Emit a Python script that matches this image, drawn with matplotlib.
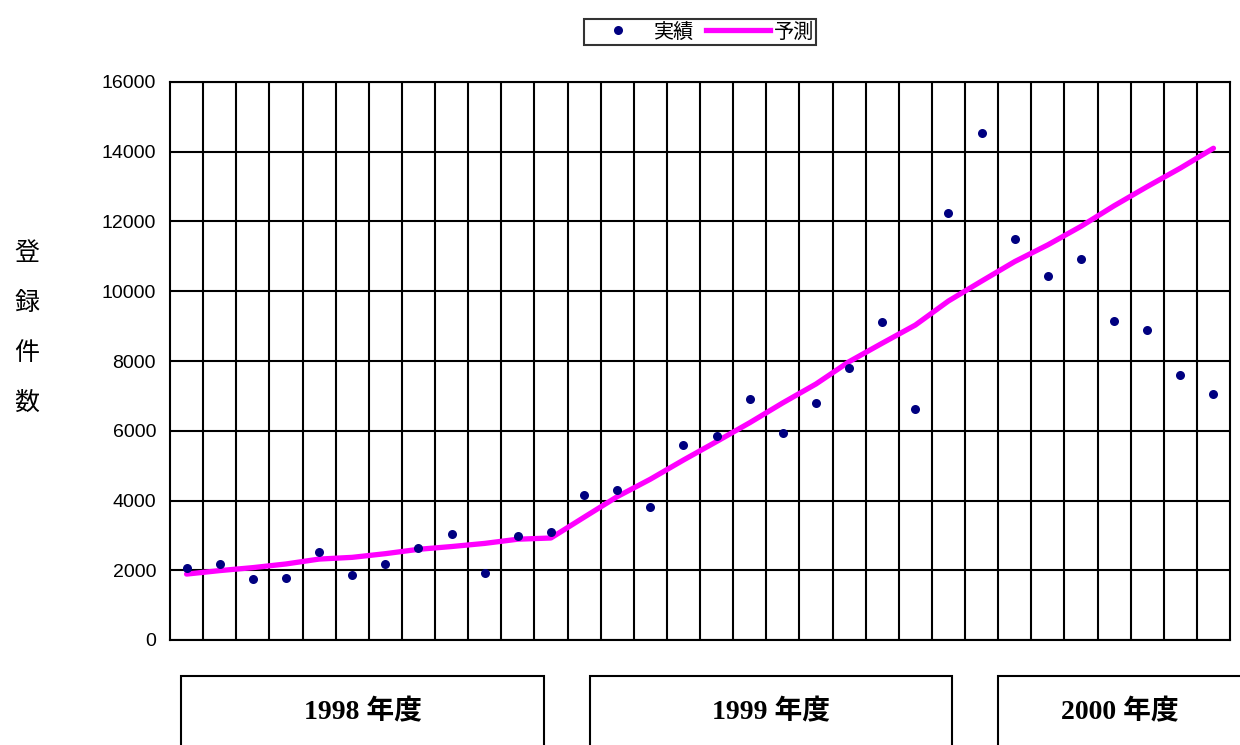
import numpy as np
import matplotlib
matplotlib.use("Agg")
import matplotlib.pyplot as plt
from matplotlib.lines import Line2D
from matplotlib.patches import Rectangle

# ---- data ----
actual = [2070, 2190, 1740, 1770, 2535, 1855, 2190, 2650, 3050, 1930, 2995, 3105,
          4150, 4300, 3805, 5585, 5860, 6900, 5925, 6790, 7790, 9110, 6615, 12235,
          14530, 11490, 10450, 10915, 9140, 8890, 7590, 7045]
forecast = [1890, 1990, 2075, 2180, 2320, 2370, 2475, 2600, 2680, 2770, 2890, 2925,
            3520, 4110, 4610, 5160, 5690, 6230, 6800, 7340, 7980, 8510, 9030, 9720,
            10290, 10850, 11330, 11860, 12450, 13000, 13530, 14100]
series_labels = ["実績", "予測"]
yticks = [0, 2000, 4000, 6000, 8000, 10000, 12000, 14000, 16000]
year_labels = ["1998 年度", "1999 年度", "2000 年度"]
ylabel = "登\n録\n件\n数"

W, H = 1240, 745
fig = plt.figure(figsize=(W / 100, H / 100), dpi=100)
ax = fig.add_axes([170 / W, 1 - 640 / H, 1060 / W, 558 / H])

n = len(actual)
x = np.arange(n)
ax.plot(x, forecast, color="#FF00FF", lw=3.8, solid_capstyle="round", zorder=3)
ax.plot(x, actual, linestyle="none", marker="o", ms=6.5, color="#000080",
        markeredgewidth=0, zorder=4)

ax.set_xlim(-0.5, n - 0.5)
ax.set_ylim(0, 16000)
ax.set_yticks(yticks)
ax.set_yticklabels([str(v) for v in yticks], fontsize=14, family="Liberation Sans")
ax.set_xticks(np.arange(0.5, n - 0.5, 1))
ax.set_xticklabels([])
ax.tick_params(axis="both", length=0, pad=10)
ax.grid(True, color="black", lw=1.5, zorder=1)
ax.set_axisbelow(True)
for s in ax.spines.values():
    s.set_color("black")
    s.set_linewidth(1.5)

# y label (vertical stacked)
fig.text(27 / W, 1 - 328 / H, ylabel, ha="center", va="center", fontsize=18,
         family=["Noto Sans CJK JP", "DejaVu Sans"], linespacing=2.2)

# legend
handles = [Line2D([], [], linestyle="none", marker="o", ms=6.5, color="#000080",
                  markeredgewidth=0),
           Line2D([], [], color="#FF00FF", lw=3.8)]
leg = fig.legend(handles, series_labels, loc="center",
                 bbox_to_anchor=(700 / W, 1 - 32 / H), ncol=2, frameon=True,
                 fancybox=False, borderpad=0.12, handlelength=3.2,
                 handletextpad=0.15, columnspacing=0.6, borderaxespad=0,
                 prop={"family": ["Noto Sans CJK JP", "DejaVu Sans"], "size": 14.5})
leg.get_frame().set_edgecolor("black")
leg.get_frame().set_linewidth(1.5)

# fiscal-year boxes below the axis (layout in pixels)
boxes = [(181, 544), (590, 952), (998, 1242)]
for (x0, x1), lab in zip(boxes, year_labels):
    r = Rectangle((x0 / W, -0.1), (x1 - x0) / W, (1 - 676 / H) + 0.1,
                  transform=fig.transFigure, fill=False, edgecolor="black",
                  lw=1.5, clip_on=False)
    fig.add_artist(r)
    fig.text((x0 + x1) / 2 / W, 1 - 712 / H, lab, ha="center", va="center",
             fontsize=20, fontweight="bold",
             family=["Liberation Serif", "Noto Sans CJK JP"])

fig.savefig("out.png", dpi=100)
